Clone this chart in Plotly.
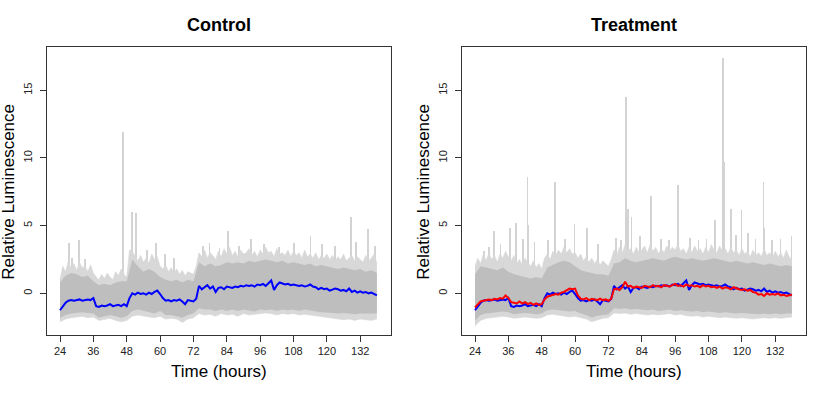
import plotly.graph_objects as go

# hourly time grid and 2-hourly grid for band edges
hours = list(range(24, 139))
hours2 = list(range(24, 139, 2))

# mean of control wells (blue), drawn in both panels
mean_control = [
    -1.25, -0.95, -0.7, -0.55, -0.5, -0.55, -0.5, -0.45, -0.55, -0.5, -0.45, -0.5, -0.35,
    -0.95, -1.0, -0.9, -0.95, -0.9, -0.8, -0.95, -0.9, -0.85, -0.95, -0.8, -0.95,
    -0.35, 0.0, -0.1, 0.05, -0.05, 0.0, -0.1, 0.05, -0.05, 0.1, 0.2, -0.05,
    -0.35, -0.55, -0.5, -0.6, -0.5, -0.55, -0.45, -0.6, -0.8, -0.5, -0.55, -0.6,
    -0.4, 0.55, 0.3, 0.45, 0.6, 0.35, 0.5, 0.1, 0.4, 0.45, 0.3, 0.5,
    0.45, 0.4, 0.5, 0.45, 0.55, 0.5, 0.6, 0.55, 0.6, 0.5, 0.65, 0.6,
    0.7, 0.55, 0.75, 0.95, 0.25, 0.6, 0.8, 0.75, 0.65, 0.7, 0.6, 0.65,
    0.6, 0.55, 0.6, 0.5, 0.55, 0.65, 0.5, 0.45, 0.3, 0.4, 0.3, 0.35,
    0.2, 0.25, 0.35, 0.3, 0.2, 0.25, 0.15, 0.35, 0.1, 0.2, 0.05, 0.15,
    0.05, 0.1, 0.0, 0.05, -0.05, -0.15,
]

# mean of treatment wells (red)
mean_treat = [
    -1.05, -0.85, -0.6, -0.55, -0.5, -0.45, -0.5, -0.4, -0.45, -0.35, -0.4, -0.15, -0.35,
    -0.65, -0.7, -0.75, -0.6, -0.75, -0.65, -0.8, -0.7, -0.85, -0.75, -0.85, -0.8,
    -0.45, -0.25, -0.2, -0.15, -0.05, -0.1, 0.05, 0.1, 0.2, 0.35, 0.3, 0.35,
    -0.15, -0.4, -0.45, -0.35, -0.5, -0.4, -0.45, -0.5, -0.4, -0.5, -0.45, -0.55,
    -0.4, 0.3, 0.35, 0.25, 0.45, 0.85, 0.5, 0.55, 0.4, 0.5, 0.45, 0.4,
    0.55, 0.5, 0.45, 0.6, 0.5, 0.55, 0.45, 0.6, 0.55, 0.5, 0.6, 0.7,
    0.55, 0.6, 0.5, 0.65, 0.55, 0.6, 0.5, 0.55, 0.45, 0.6, 0.5, 0.55,
    0.45, 0.5, 0.4, 0.5, 0.35, 0.45, 0.4, 0.3, 0.45, 0.35, 0.3, 0.25,
    0.3, 0.2, 0.25, 0.1, 0.05, -0.1, -0.05, -0.2, 0.0, -0.1, -0.05, -0.1,
    0.0, -0.15, -0.1, -0.2, -0.15, -0.1,
]

# ---- control: spread of individual wells ----
ctrl_core_hi = [0.8, 1.3, 1.5, 1.4, 1.2, 1.3, 0.9, 0.6, 0.7, 0.6, 0.8, 0.9, 0.9, 2.5, 2.0, 1.6,
                1.8, 1.6, 1.2, 1.0, 0.9, 1.0, 0.8, 1.0, 0.9, 2.3, 2.0, 2.2, 2.0, 2.1, 2.3, 2.2,
                2.3, 2.2, 2.4, 2.3, 2.4, 2.5, 2.4, 2.3, 2.4, 2.2, 2.3, 2.2, 2.1, 2.2, 2.0, 2.1,
                2.0, 1.9, 1.8, 1.9, 1.8, 1.7, 1.8, 1.6, 1.7, 1.5]
ctrl_core_lo = [-1.8, -1.6, -1.5, -1.45, -1.4, -1.45, -1.5, -1.8, -1.7, -1.6, -1.7, -1.8, -1.7,
                -1.3, -1.2, -1.3, -1.4, -1.5, -1.3, -1.6, -1.6, -1.7, -1.8, -1.6, -1.5, -1.1,
                -1.2, -1.2, -1.3, -1.2, -1.3, -1.2, -1.3, -1.2, -1.3, -1.35, -1.2, -1.25, -1.2,
                -1.3, -1.2, -1.25, -1.2, -1.3, -1.2, -1.3, -1.35, -1.4, -1.4, -1.45, -1.5,
                -1.45, -1.5, -1.55, -1.5, -1.5, -1.55, -1.5]
ctrl_fringe_lo = [-2.1, -1.9, -1.8, -1.75, -1.7, -1.8, -1.75, -2.0, -1.9, -1.85, -2.0, -2.1, -2.0,
                  -1.7, -1.6, -1.7, -1.75, -1.8, -1.7, -1.9, -1.85, -1.9, -2.15, -1.9, -1.8,
                  -1.5, -1.6, -1.55, -1.7, -1.5, -1.6, -1.55, -1.7, -1.5, -1.6, -1.55, -1.5,
                  -1.45, -1.5, -1.6, -1.5, -1.55, -1.5, -1.6, -1.55, -1.6, -1.7, -1.75, -1.8,
                  -1.85, -1.9, -1.95, -1.9, -2.0, -1.9, -1.95, -2.0, -1.9]
ctrl_fringe_hi = [
    1.0, 2.0, 1.6, 2.4, 1.8, 2.2, 1.7, 2.3, 1.9, 2.0, 1.6, 2.1, 1.5,
    1.2, 1.0, 1.4, 1.1, 1.5, 1.2, 1.0, 1.6, 1.3, 1.8, 1.4, 1.2,
    3.2, 3.1, 2.7, 2.4, 2.8, 2.3, 2.6, 2.2, 2.9, 2.5, 2.7, 2.0,
    1.8, 2.1, 1.6, 1.9, 1.5, 1.8, 1.4, 1.7, 1.3, 1.6, 1.5, 1.4,
    2.0, 3.0, 2.7, 3.2, 2.6, 3.0, 2.8, 2.5, 3.1, 2.7, 3.3, 2.9,
    3.4, 2.8, 3.1, 2.7, 3.2, 2.9, 3.0, 3.3, 2.8, 3.1, 2.7, 3.2,
    2.9, 3.4, 3.0, 3.1, 2.7, 3.3, 2.9, 3.0, 2.8, 3.2, 2.7, 3.1,
    2.8, 3.0, 2.6, 3.2, 2.7, 2.9, 2.6, 3.0, 2.5, 2.8, 2.6, 2.9,
    2.5, 2.8, 2.4, 2.7, 2.5, 2.9, 2.4, 2.6, 2.8, 2.4, 2.7, 2.5,
    2.3, 2.8, 2.4, 2.6, 2.9, 2.2,
]
ctrl_spike_t = [27.3, 28.5, 30.8, 33.0, 46.6, 46.9, 50.1, 51.3, 55.5, 58.6, 62.0, 65.0, 75.5,
                77.9, 81.5, 84.6, 88.5, 92.7, 97.5, 103.0, 108.3, 114.2, 118.5, 123.0, 128.7,
                130.5, 134.8, 137.3]
ctrl_spike_v = [3.7, 2.6, 3.9, 2.5, 7.3, 11.9, 6.0, 5.9, 3.2, 3.7, 2.9, 2.6, 3.5,
                3.7, 3.3, 4.6, 3.5, 4.0, 3.6, 3.4, 3.7, 4.2, 3.6, 3.5, 5.6,
                3.8, 4.7, 3.5]

# ---- treatment: spread of individual wells ----
trt_core_hi = [1.4, 2.0, 1.9, 1.8, 1.7, 1.9, 1.6, 1.4, 1.3, 1.2, 1.1, 1.2, 1.1, 1.9, 2.1, 2.3,
               2.4, 2.3, 2.0, 1.7, 1.6, 1.5, 1.4, 1.4, 1.3, 2.2, 2.3, 2.6, 2.4, 2.3, 2.4, 2.5,
               2.6, 2.5, 2.4, 2.6, 2.7, 2.6, 2.5, 2.6, 2.5, 2.4, 2.5, 2.6, 2.5, 2.4, 2.3, 2.4,
               2.3, 2.2, 2.3, 2.2, 2.1, 2.2, 2.1, 2.0, 2.1, 2.0]
trt_core_lo = [-2.0, -1.6, -1.5, -1.45, -1.4, -1.35, -1.4, -1.55, -1.5, -1.45, -1.5, -1.55, -1.5,
               -1.25, -1.2, -1.25, -1.3, -1.35, -1.3, -1.5, -1.6, -1.8, -1.65, -1.6, -1.55,
               -1.1, -1.15, -1.1, -1.2, -1.15, -1.2, -1.25, -1.2, -1.3, -1.25, -1.2, -1.3,
               -1.25, -1.3, -1.35, -1.3, -1.4, -1.35, -1.4, -1.45, -1.4, -1.45, -1.5, -1.45,
               -1.5, -1.5, -1.55, -1.5, -1.55, -1.5, -1.55, -1.5, -1.5]
trt_fringe_lo = [-2.4, -2.0, -1.85, -1.8, -1.75, -1.7, -1.75, -1.85, -1.8, -1.75, -1.8, -1.85,
                 -1.8, -1.6, -1.55, -1.6, -1.7, -1.75, -1.7, -1.8, -1.9, -2.1, -1.95, -1.85,
                 -1.8, -1.45, -1.5, -1.45, -1.55, -1.5, -1.55, -1.6, -1.55, -1.6, -1.55, -1.5,
                 -1.6, -1.55, -1.65, -1.7, -1.65, -1.75, -1.7, -1.75, -1.8, -1.75, -1.8, -1.85,
                 -1.8, -1.85, -1.9, -1.85, -1.8, -1.85, -1.8, -1.85, -1.8, -1.75]
trt_fringe_hi = [
    2.0, 2.6, 2.2, 2.9, 2.4, 3.0, 2.5, 2.8, 2.3, 2.9, 2.6, 3.1, 2.7,
    2.4, 2.8, 2.2, 2.5, 2.1, 2.6, 2.3, 2.0, 2.4, 1.9, 2.2, 1.8,
    2.6, 2.9, 2.5, 3.1, 2.8, 3.2, 2.9, 3.4, 3.0, 3.3, 2.9, 3.0,
    2.6, 2.9, 2.4, 2.7, 2.3, 2.6, 2.2, 2.5, 2.1, 2.4, 2.2, 2.0,
    2.5, 3.2, 2.8, 3.4, 3.0, 3.6, 3.1, 3.3, 2.9, 3.4, 3.0, 3.2,
    3.5, 3.0, 3.6, 3.1, 3.4, 2.9, 3.3, 3.0, 3.5, 3.1, 3.4, 3.2,
    3.6, 3.1, 3.3, 2.9, 3.4, 3.0, 3.5, 3.1, 3.3, 2.9, 3.4, 3.0,
    3.6, 3.2, 3.0, 3.5, 3.1, 3.3, 2.9, 3.4, 3.0, 3.2, 2.8, 3.3,
    2.9, 3.1, 2.7, 3.2, 2.8, 3.0, 2.7, 3.3, 2.8, 3.0, 2.6, 3.1,
    2.7, 3.0, 2.6, 3.2, 2.7, 2.5,
]
trt_spike_t = [27.3, 29.0, 30.8, 33.3, 36.6, 38.9, 41.5, 43.0, 43.3, 45.5, 50.5, 53.0, 56.5,
               59.9, 64.4, 68.5, 74.9, 76.5, 78.4, 78.6, 79.2, 80.4, 83.5, 87.4, 87.6, 91.0,
               94.0, 97.1, 97.3, 101.5, 104.5, 107.4, 110.4, 113.4, 113.6, 116.1, 118.0,
               120.0, 122.4, 125.0, 127.9, 128.1, 131.0, 134.0, 138.0]
trt_spike_v = [3.1, 3.4, 4.55, 3.6, 4.8, 5.2, 4.0, 8.6, 5.0, 3.8, 3.9, 8.2, 4.0,
               5.1, 4.8, 3.6, 4.1, 3.9, 14.5, 9.4, 6.2, 5.6, 4.2, 7.2, 4.3, 4.0,
               3.9, 7.95, 5.8, 4.1, 3.9, 4.0, 5.4, 17.4, 9.7, 6.2, 4.3,
               6.1, 4.4, 4.0, 8.2, 4.8, 3.9, 4.0, 4.2]

x_ticks = [24, 36, 48, 60, 72, 84, 96, 108, 120, 132]
y_ticks = [0, 5, 10, 15]

CORE = "#BEBEBE"
FRINGE = "#D8D8D8"
SPIKE = "#D3D3D3"

fig = go.Figure()


def add_panel(xa, ya, spike_t, spike_v, f_lo, f_hi, c_lo, c_hi, means):
    fig.add_trace(go.Bar(x=spike_t, y=spike_v, width=0.3, marker_color=SPIKE,
                         marker_line_width=0, xaxis=xa, yaxis=ya))
    fig.add_trace(go.Scatter(x=hours2, y=f_lo, mode="lines", line=dict(width=0.6, color=FRINGE),
                             xaxis=xa, yaxis=ya))
    fig.add_trace(go.Scatter(x=hours, y=f_hi, mode="lines", line=dict(width=0.6, color=FRINGE),
                             fill="tonexty", fillcolor=FRINGE, xaxis=xa, yaxis=ya))
    fig.add_trace(go.Scatter(x=hours2, y=c_lo, mode="lines", line=dict(width=0, color=CORE),
                             xaxis=xa, yaxis=ya))
    fig.add_trace(go.Scatter(x=hours2, y=c_hi, mode="lines", line=dict(width=0, color=CORE),
                             fill="tonexty", fillcolor=CORE, xaxis=xa, yaxis=ya))
    for vals, col in means:
        fig.add_trace(go.Scatter(x=hours, y=vals, mode="lines", line=dict(width=2, color=col),
                                 xaxis=xa, yaxis=ya))


add_panel("x", "y", ctrl_spike_t, ctrl_spike_v, ctrl_fringe_lo, ctrl_fringe_hi,
          ctrl_core_lo, ctrl_core_hi, [(mean_control, "#0000FF")])
add_panel("x2", "y2", trt_spike_t, trt_spike_v, trt_fringe_lo, trt_fringe_hi,
          trt_core_lo, trt_core_hi, [(mean_control, "#0000FF"), (mean_treat, "#FF0000")])

tick_font = dict(family="Liberation Sans, Arial, sans-serif", size=11, color="#222")
x_common = dict(range=[19.43, 142.96], tickvals=x_ticks, ticks="outside", ticklen=6,
                tickcolor="#333", showline=True, linecolor="#333", linewidth=1, mirror=True,
                showgrid=False, zeroline=False, tickfont=tick_font, automargin=False)
y_common = dict(range=[-3.08, 18.18], tickvals=y_ticks, ticks="outside", ticklen=6,
                tickcolor="#333", showline=True, linecolor="#333", linewidth=1, mirror=True,
                showgrid=False, zeroline=False, tickangle=-90, tickfont=tick_font,
                ticklabelstandoff=4, automargin=False)

fig.update_layout(
    width=830, height=395,
    margin=dict(l=0, r=0, t=0, b=0, autoexpand=False),
    plot_bgcolor="white", paper_bgcolor="white",
    showlegend=False, barmode="overlay", bargap=0,
    xaxis=dict(domain=[0.05699, 0.4707], anchor="y", **x_common),
    yaxis=dict(domain=[0.1519, 0.8803], anchor="x", **y_common),
    xaxis2=dict(domain=[0.557, 0.9707], anchor="y2", **x_common),
    yaxis2=dict(domain=[0.1519, 0.8803], anchor="x2", **y_common),
)

font = "Liberation Sans, Arial, sans-serif"
notes = []
for cx, title, lx in [(0.2639, "Control", 0.0102), (0.7639, "Treatment", 0.5102)]:
    notes.append(dict(x=cx, y=0.9367, xref="paper", yref="paper", text="<b>" + title + "</b>",
                      showarrow=False, xanchor="center", yanchor="middle",
                      font=dict(family=font, size=18, color="black")))
    notes.append(dict(x=cx, y=0.059, xref="paper", yref="paper", text="Time (hours)",
                      showarrow=False, xanchor="center", yanchor="middle",
                      font=dict(family=font, size=17, color="black")))
    notes.append(dict(x=lx, y=0.5157, xref="paper", yref="paper", text="Relative Luminescence",
                      showarrow=False, xanchor="center", yanchor="middle", textangle=-90,
                      font=dict(family=font, size=17, color="black")))
fig.update_layout(annotations=notes)

# page body has a default 8px margin; drop it so the figure sits at the window corner
fig.write_html("out.html", config={"displayModeBar": False},
               post_script="document.body.style.margin='0';")
